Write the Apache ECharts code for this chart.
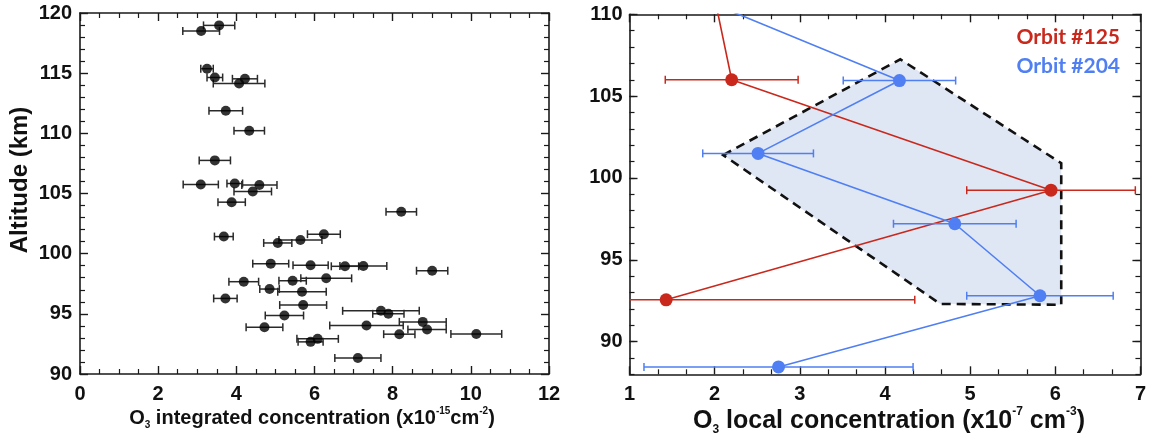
<!DOCTYPE html>
<html><head><meta charset="utf-8">
<script src="https://cdn.jsdelivr.net/npm/echarts@6/dist/echarts.min.js"></script>
<style>html,body{margin:0;padding:0;background:#fff}#c{width:1149px;height:436px}</style>
</head><body><div id="c"></div>
<script>
// ---- Left panel: O3 integrated concentration (x1e-15 cm^-2) vs altitude (km)
const intAlt  = [118.97,118.5,115.37,114.64,114.53,114.14,111.87,110.22,107.75,105.75,105.83,105.7,105.17,104.28,103.48,101.42,101.62,101.14,100.89,99.17,99.03,98.95,98.97,98.58,97.67,97.75,97.95,97.06,96.83,96.28,95.73,95.25,95.0,94.86,94.33,94.03,93.7,93.89,93.31,93.33,92.92,92.67,91.33];
const intConc = [3.56,3.10,3.25,3.45,4.22,4.07,3.73,4.33,3.45,3.09,3.96,4.59,4.42,3.88,8.22,3.68,6.24,5.64,5.06,4.88,5.90,6.78,7.25,9.01,4.19,5.44,6.30,4.85,5.68,3.72,5.71,7.70,7.89,5.23,8.77,7.33,8.88,4.72,8.17,10.14,6.08,5.90,7.11];
const intErr  = [0.40,0.47,0.16,0.20,0.32,0.66,0.43,0.39,0.40,0.45,0.20,0.45,0.48,0.35,0.39,0.24,0.42,0.55,0.36,0.46,0.45,0.35,0.60,0.40,0.38,0.35,0.65,0.25,0.62,0.30,0.60,0.98,0.40,0.49,0.60,0.94,0.49,0.47,0.40,0.65,0.53,0.32,0.59];
const leftXTicks = [0,2,4,6,8,10,12];
const leftYTicks = [90,95,100,105,110,115,120];

// ---- Right panel: O3 local concentration (x1e-7 cm^-3) vs altitude (km)
const alt125  = [111.0,106.0,99.25,92.55];
const conc125 = [2.00,2.20,5.95,1.43];
const err125  = [null,0.78,0.99,2.92];
const alt204  = [110.6,105.95,101.5,97.2,92.8,88.45];
const conc204 = [2.00,4.17,2.51,4.82,5.82,2.75];
const err204  = [null,0.66,0.65,0.72,0.86,1.58];
// "Firm O3 detection" region outline (concentration, altitude)
const firmConc = [2.10,4.18,6.07,6.07,4.65];
const firmAlt  = [101.4,107.25,100.9,92.25,92.3];
const rightXTicks = [1,2,3,4,5,6,7];
const rightYTicks = [90,95,100,105,110];
const rightYMinor = [88,89,90,91,92,93,94,95,96,97,98,99,100,101,102,103,104,105,106,107,108,109,110];

const RED = '#c9291d', BLUE = '#4f7ff2', AX = '#1a1a1a';
const tickFont = {fontFamily:'Liberation Sans Narrow, Liberation Sans, Arial, sans-serif', fontWeight:'bold', fontSize:20, color:'#111'};

function errSeries(name, conc, alt, err, xi, yi, color, lw, cap, xmin) {
  const data = [];
  conc.forEach((c,i)=>{ if (err[i] != null) data.push([c-err[i], c+err[i], alt[i]]); });
  return {
    type:'custom', name, xAxisIndex:xi, yAxisIndex:yi, z:4, silent:true,
    renderItem(params, api){
      let lo = api.value(0), hi = api.value(1), y = api.value(2);
      const loClip = lo < xmin; if (loClip) lo = xmin;
      const p1 = api.coord([lo,y]), p2 = api.coord([hi,y]);
      const st = {stroke:color, lineWidth:lw};
      const ch = [{type:'line', shape:{x1:p1[0],y1:p1[1],x2:p2[0],y2:p2[1]}, style:st},
                  {type:'line', shape:{x1:p2[0],y1:p2[1]-cap,x2:p2[0],y2:p2[1]+cap}, style:st}];
      if (!loClip) ch.push({type:'line', shape:{x1:p1[0],y1:p1[1]-cap,x2:p1[0],y2:p1[1]+cap}, style:st});
      return {type:'group', children:ch};
    },
    data
  };
}

function xAx(grid, pos, min, max, interval, minorSplit, labels) {
  return {type:'value', gridIndex:grid, position:pos, min, max, interval,
    axisLine:{show:true, onZero:false, lineStyle:{color:AX, width:1.6}},
    axisTick:{show:true, inside:true, length:8, lineStyle:{color:AX, width:1.4}},
    minorTick:{show:true, splitNumber:minorSplit, length:5, lineStyle:{color:AX, width:1.2}},
    splitLine:{show:false},
    axisLabel:{show:labels, margin:10, ...tickFont}};
}
function yAx(grid, pos, min, max, interval, minorSplit, labels) {
  return {type:'value', gridIndex:grid, position:pos, min, max, interval,
    axisLine:{show:true, onZero:false, lineStyle:{color:AX, width:1.6}},
    axisTick:{show:true, inside:true, length:8, lineStyle:{color:AX, width:1.4}},
    minorTick:{show:true, splitNumber:minorSplit, length:5, lineStyle:{color:AX, width:1.2}},
    splitLine:{show:false},
    axisLabel:{show:labels, margin:8, ...tickFont}};
}
function yCustom(grid, pos, vals, len, labels, line) {
  return {type:'value', gridIndex:grid, position:pos, min:88, max:110,
    axisLine:{show:line, onZero:false, lineStyle:{color:AX, width:1.6}},
    axisTick:{show:true, inside:true, length:len, customValues:vals, lineStyle:{color:AX, width:len>6?1.4:1.2}},
    minorTick:{show:false}, splitLine:{show:false},
    axisLabel:{show:labels, margin:7, customValues:vals, ...tickFont}};
}

const chart = echarts.init(document.getElementById('c'), null, {renderer:'canvas'});
const option = {
  animation:false,
  backgroundColor:'#fff',
  grid:[{left:80, top:13, width:469, height:361},
        {left:629.5, top:14.3, width:513.5, height:360}],
  xAxis:[xAx(0,'bottom',leftXTicks[0],leftXTicks[leftXTicks.length-1],2,4,true),
         xAx(0,'top',leftXTicks[0],leftXTicks[leftXTicks.length-1],2,4,false),
         xAx(1,'bottom',rightXTicks[0],rightXTicks[rightXTicks.length-1],1,3,true),
         xAx(1,'top',rightXTicks[0],rightXTicks[rightXTicks.length-1],1,3,false)],
  yAxis:[yAx(0,'left',leftYTicks[0],leftYTicks[leftYTicks.length-1],5,5,true),
         yAx(0,'right',leftYTicks[0],leftYTicks[leftYTicks.length-1],5,5,false),
         yCustom(1,'left',rightYTicks,8,true,true),
         yCustom(1,'left',rightYMinor,5,false,false),
         yCustom(1,'right',rightYTicks,8,false,true),
         yCustom(1,'right',rightYMinor,5,false,false)],
  series:[
    errSeries('intErr', intConc, intAlt, intErr, 0, 0, '#2a2a2a', 1.5, 4, 0),
    {type:'scatter', name:'integrated', xAxisIndex:0, yAxisIndex:0, symbol:'circle', symbolSize:10, z:5,
     itemStyle:{color:'#000'}, data:intConc.map((c,i)=>[c,intAlt[i]])},
    {type:'custom', name:'firm', xAxisIndex:2, yAxisIndex:2, z:1, silent:true,
     renderItem(params, api){
       if (params.dataIndex !== 0) return null;
       const pts = firmConc.map((c,i)=>api.coord([c, firmAlt[i]]));
       return {type:'group', children:[
         {type:'polygon', shape:{points:pts}, style:{fill:'#dfe6f4', stroke:null}},
         {type:'polygon', shape:{points:pts}, style:{fill:null, stroke:'#111', lineWidth:2.6, lineDash:[9,6]}}
       ]};
     },
     data:firmConc.map((c,i)=>[c, firmAlt[i]])},
    {type:'line', name:'Orbit #125', xAxisIndex:2, yAxisIndex:2, z:3, symbol:'circle', symbolSize:13, showSymbol:true,
     lineStyle:{color:RED, width:1.6}, itemStyle:{color:RED}, clip:true,
     data:conc125.map((c,i)=>[c,alt125[i]])},
    {type:'line', name:'Orbit #204', xAxisIndex:2, yAxisIndex:2, z:3, symbol:'circle', symbolSize:13, showSymbol:true,
     lineStyle:{color:BLUE, width:1.6}, itemStyle:{color:BLUE}, clip:true,
     data:conc204.map((c,i)=>[c,alt204[i]])},
    errSeries('err125', conc125, alt125, err125, 2, 2, RED, 1.5, 4, 1),
    errSeries('err204', conc204, alt204, err204, 2, 2, BLUE, 1.5, 4, 1)
  ],
  graphic:[
    {type:'text', x:20, y:180, rotation:Math.PI/2,
     style:{text:'Altitude (km)', font:'bold 24px "Liberation Sans", Arial, sans-serif', fill:'#111', align:'center', verticalAlign:'middle'}},
    {type:'text', x:312, y:418,
     style:{text:'{b|O}{sub|3}{b| integrated concentration (x10}{sup|-15}{b|cm}{sup|-2}{b|)}', align:'center', verticalAlign:'middle',
       rich:{b:{font:'bold 20px "Liberation Sans", Arial, sans-serif', fill:'#111', lineHeight:24},
             sub:{font:'bold 10px "Liberation Sans", Arial, sans-serif', fill:'#111', verticalAlign:'bottom', lineHeight:24},
             sup:{font:'bold 10px "Liberation Sans", Arial, sans-serif', fill:'#111', verticalAlign:'top', lineHeight:24}}}},
    {type:'text', x:889, y:421,
     style:{text:'{b|O}{sub|3}{b| local concentration (x10}{sup|-7}{b| cm}{sup|-3}{b|)}', align:'center', verticalAlign:'middle',
       rich:{b:{font:'bold 25px "Liberation Sans", Arial, sans-serif', fill:'#111', lineHeight:30},
             sub:{font:'bold 12px "Liberation Sans", Arial, sans-serif', fill:'#111', verticalAlign:'bottom', lineHeight:30},
             sup:{font:'bold 12px "Liberation Sans", Arial, sans-serif', fill:'#111', verticalAlign:'top', lineHeight:30}}}},
    {type:'text', x:1120, y:37,
     style:{text:'Orbit #125', font:'bold 21px Lato, "Open Sans", sans-serif', fill:RED, align:'right', verticalAlign:'middle'}},
    {type:'text', x:1120, y:66,
     style:{text:'Orbit #204', font:'bold 21px Lato, "Open Sans", sans-serif', fill:BLUE, align:'right', verticalAlign:'middle'}},
    {type:'text', x:891, y:169,
     style:{text:'{a|Firm O}{s|3}\n{a|detection}', align:'center', verticalAlign:'middle',
       rich:{a:{font:'bold 13px Lato, sans-serif', fill:'#3a2fe6', lineHeight:17},
             s:{font:'bold 9px Lato, sans-serif', fill:'#3a2fe6', verticalAlign:'bottom', lineHeight:17}}}}
  ]
};
chart.setOption(option);
</script></body></html>
